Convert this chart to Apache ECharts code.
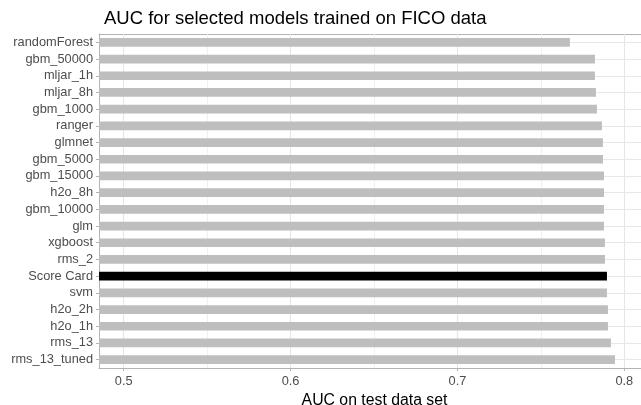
<!DOCTYPE html>
<html>
<head>
<meta charset="utf-8">
<script src="https://cdn.jsdelivr.net/npm/echarts@6/dist/echarts.min.js"></script>
<style>html,body{margin:0;padding:0;background:#fff}#c{width:641px;height:405px}</style>
</head>
<body>
<div id="c"></div>
<script>
var models = ['randomForest','gbm_50000','mljar_1h','mljar_8h','gbm_1000','ranger','glmnet','gbm_5000','gbm_15000','h2o_8h','gbm_10000','glm','xgboost','rms_2','Score Card','svm','h2o_2h','h2o_1h','rms_13','rms_13_tuned'];
var auc = [0.7674,0.7824,0.7824,0.7830,0.7836,0.7866,0.7872,0.7872,0.7878,0.7878,0.7878,0.7878,0.7884,0.7884,0.7896,0.7896,0.7902,0.7902,0.7920,0.7944];
var highlight = 'Score Card';
var majorTicks = [0.5, 0.6, 0.7, 0.8];
var minorTicks = [0.55, 0.65, 0.75];
var xMin = 0.4852, xMax = 0.8154;

var FONT = 'Liberation Sans, Arial, sans-serif';
var chart = echarts.init(document.getElementById('c'), null, {renderer: 'canvas'});

var barData = models.map(function (m, i) {
  return {value: auc[i], itemStyle: {color: m === highlight ? '#000000' : '#BEBEBE'}};
});

var gridLines = [];
minorTicks.forEach(function (v) { gridLines.push({xAxis: v, lineStyle: {color: '#F0F0F0', width: 1, type: 'solid'}}); });
majorTicks.forEach(function (v) { gridLines.push({xAxis: v, lineStyle: {color: '#E5E5E5', width: 1, type: 'solid'}}); });
models.forEach(function (m) { gridLines.push({yAxis: m, lineStyle: {color: '#E8E8E8', width: 1, type: 'solid'}}); });

chart.setOption({
  animation: false,
  backgroundColor: '#ffffff',
  title: {
    text: 'AUC for selected models trained on FICO data',
    left: 99, top: 4,
    textStyle: {fontFamily: FONT, fontSize: 18.5, fontWeight: 'normal', color: '#000000'}
  },
  grid: {left: 99, right: -9, top: 34, bottom: 37, containLabel: false, outerBoundsMode: 'none'},
  xAxis: [{
    type: 'value', min: xMin, max: xMax, position: 'bottom',
    name: 'AUC on test data set', nameLocation: 'middle', nameGap: 22,
    nameTextStyle: {fontFamily: FONT, fontSize: 15.8, color: '#000000'},
    axisLine: {show: true, lineStyle: {color: '#B3B3B3', width: 1}},
    axisTick: {show: true, length: 3, customValues: majorTicks, lineStyle: {color: '#B3B3B3'}},
    axisLabel: {customValues: majorTicks, margin: 7, fontFamily: FONT, fontSize: 12.8, color: '#4D4D4D',
      formatter: function (v) { return String(v); }},
    splitLine: {show: false}
  }, {
    type: 'value', min: xMin, max: xMax, position: 'top',
    axisLine: {show: true, onZero: false, lineStyle: {color: '#B3B3B3', width: 1}},
    axisTick: {show: false}, axisLabel: {show: false}, splitLine: {show: false}
  }],
  yAxis: {
    type: 'category', data: models, inverse: true,
    axisLine: {show: true, lineStyle: {color: '#B3B3B3', width: 1}},
    axisTick: {show: true, alignWithLabel: true, interval: 0, length: 3, lineStyle: {color: '#B3B3B3'}},
    axisLabel: {interval: 0, margin: 6, fontFamily: FONT, fontSize: 12.8, color: '#4D4D4D'},
    splitLine: {show: false}
  },
  series: [{
    type: 'line', data: [], z: 1, silent: true, xAxisIndex: 0,
    markLine: {silent: true, z: 1, symbol: 'none', label: {show: false}, animation: false, data: gridLines}
  }, {
    type: 'bar', data: barData, barWidth: '52%', z: 3, xAxisIndex: 0
  }]
});
</script>
</body>
</html>
